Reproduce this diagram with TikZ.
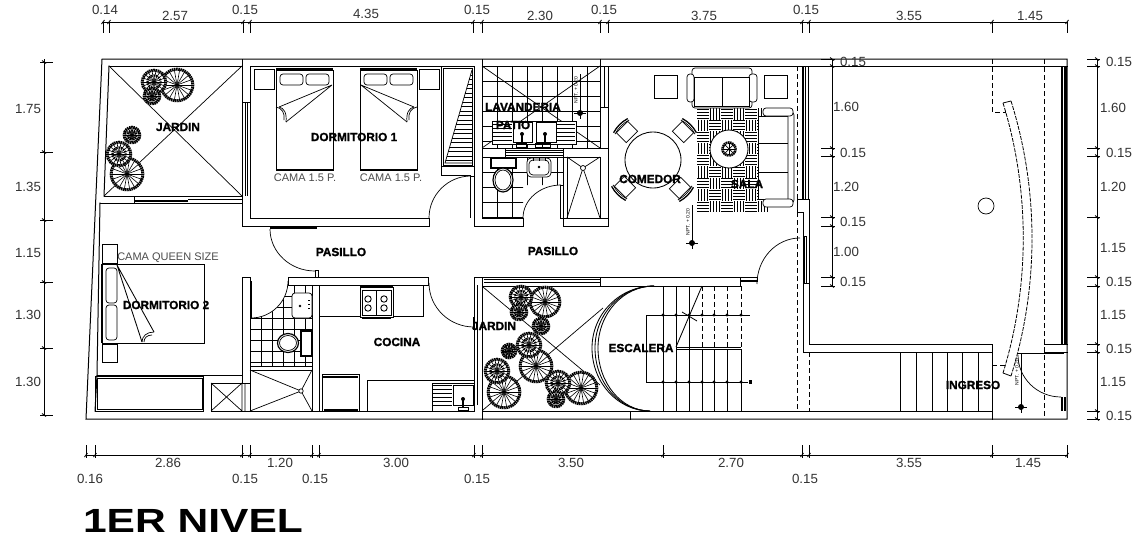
\documentclass[tikz,border=0pt]{standalone}
\usepackage{fontspec}
\setmainfont{Liberation Sans}
\newfontfamily\cadbold[FakeBold=1.4]{Liberation Sans Bold}
\usetikzlibrary{calc}
\newcounter{lblc}
\newcommand{\lbl}[4][dimtxt]{\stepcounter{lblc}\node[#1] (t\thelblc) at (#2,#3) {#4};}
\newcommand{\qarc}[3]{(#1) .. controls ($(#1)!0.552!(#2)$) and ($(#3)!0.552!(#2)$) .. (#3)}
\newcommand{\arbol}[3]{%
  \fill[white] (#1,#2) circle (#3);
  \foreach \a in {0,20,...,340}{\draw[line width=.6pt] (#1,#2) -- ++(\a:#3-1);}
  \draw[line width=3pt,dash pattern=on 1.5pt off .6pt] (#1,#2) circle (#3-1.2);
  \ifnum#3<14 \draw[line width=2.2pt,dash pattern=on 1.5pt off 1pt] (#1,#2) circle (#3*.5);\fi
  \fill (#1,#2) circle (1.5);
}
\newcommand{\silla}[3]{\begin{scope}[shift={(#1,#2)},rotate=#3]
  \draw[thinl] (-7,-8) rectangle (7,8);
  \draw[line width=1.3pt] (9,-10) .. controls (11,-3) and (11,3) .. (9,10);
  \draw[thinl] (7,-10) .. controls (9,-3) and (9,3) .. (7,10);
\end{scope}}
\newcommand{\nivel}[5]{%
  \draw[line width=.9pt] (#1,#2) -- (#1,#3);
  \fill (#1,#3) circle (3);
  \draw[thinl] (#1-6,#3) -- (#1+6,#3) (#1,#3-6) -- (#1,#3+6);
  \lbl[nivtxt]{#4}{#5}{NPT. + 0.20}
}
\tikzset{
  wall/.style={line width=1pt,line cap=rect},
  thinl/.style={line width=.7pt},
  dimln/.style={line width=.85pt},
  heavy/.style={line width=1.9pt},
  dashl/.style={line width=.85pt,dash pattern=on 5pt off 3pt},
  dimtxt/.style={text=black!80,font=\fontsize{13.3}{15}\selectfont,inner sep=0pt},
  smalltxt/.style={text=black!70,font=\fontsize{11}{13}\selectfont,inner sep=0pt},
  room/.style={font=\cadbold\fontsize{11.8}{13}\selectfont,inner sep=0pt},
  nivtxt/.style={font=\fontsize{5}{6}\selectfont,rotate=90,inner sep=0pt},
  title/.style={font=\bfseries\fontsize{33.5}{36}\selectfont,xscale=1.27,inner sep=0pt}
}
\begin{document}
\begin{tikzpicture}[x=1pt,y=-1pt,line join=miter]
\useasboundingbox (0,0) rectangle (1143,541);
\fill[white] (0,0) rectangle (1143,541);

% tiles
\begin{scope}
 \clip (482,66) rectangle (600,148);
 \foreach \v in {482,497,...,600}{\draw[thinl] (\v,66)--(\v,148);}
 \foreach \v in {66,81,...,148}{\draw[thinl] (482,\v)--(600,\v);}
\end{scope}
\draw[thinl] (482,66)--(600,148) (600,66)--(482,148);
\begin{scope}
 \clip (482,157) -- (563,157) -- (563,185) -- (523,185) -- (523,218) -- (482,218) -- cycle;
 \foreach \v in {482,497,...,563}{\draw[thinl] (\v,157)--(\v,218);}
 \foreach \v in {157,172,...,218}{\draw[thinl] (482,\v)--(563,\v);}
\end{scope}
\begin{scope}
 \clip (251,318) .. controls (272,318) and (288,302) .. (288,281) -- (312,285) -- (312,366) -- (251,366) -- cycle;
 \foreach \v in {250,261,...,312}{\draw[thinl] (\v,285)--(\v,366);}
 \foreach \v in {285,296,...,366}{\draw[thinl] (250,\v)--(312,\v);}
\end{scope}

% outer walls
\draw[wall] (102,59) -- (1067,59) -- (1067,419) -- (86,419) -- cycle;
\draw[wall] (109,66) -- (242,66) (250,66) -- (474,66) (482,66) -- (1067,66);
\draw[wall] (109,66) -- (104,196) (100,203) -- (97,375) -- (95,411);
\draw[wall] (242,59) -- (242,226) (250,66) -- (250,218);
\draw[thinl] (245,102) -- (245,196) (247.5,102) -- (247.5,196) (243,102)--(250,102);
\draw[wall] (104,196) -- (242,196) (100,203) -- (242,203);
\draw[heavy] (134,201) -- (188,201);
\draw[thinl] (134,196) -- (134,203) (188,199) -- (242,199);
\draw[wall] (250,218) -- (429,218) (242,226) -- (429,226) (429,218) -- (429,226);
\draw[line width=1.4pt] (270,228) -- (317,228);
% closet dorm 1
\draw[wall] (441,66) -- (441,175) -- (470,175) (441,166) -- (474,166);
\draw[wall] (443,68) rectangle (472,165);
\draw[thinl] (472,70) -- (445,163) -- (472,163);
\foreach \v in {75,79.5,...,163}{\draw[thinl] ({472-(\v-70)*27/93},\v) -- (472,\v);}
\draw[wall] (474,66) -- (474,226) -- (523,226) -- (523,218) -- (482,218) -- (482,59);
\draw[thinl] (470.5,176) -- (470.5,218) (470.5,176) -- (474,176);
% lavanderia and baths
\draw[wall] (600,59) -- (600,148) (482,148) -- (608,148) (482,157) -- (505,157) -- (505,148) (563,157) -- (600,157);
\draw[thinl] (505,150.5) -- (563,150.5) (505,152.8) -- (563,152.8) (505,155) -- (563,155);
\draw[wall] (604,66) -- (604,107) (600,107) -- (608,107) (608,66) -- (608,226) -- (563,226) -- (563,148);
\draw[wall] (563,218) -- (608,218);
\draw[wall] (560,185) -- (560,218) -- (563,218) (560,185) -- (563,185);
\draw[wall] (567,157) rectangle (600,218);
\draw[thinl] (567,157) -- (583,168) -- (600,157) (567,218) -- (583,168) -- (600,218);
\fill[white] (583,168) circle (2.5); \draw[thinl] (583,168) circle (2.5);
% laundry sink
\draw[wall,fill=white] (492,121) rectangle (576,144);
\draw[thinl,fill=white] (513,122) rectangle (532,142) (536,122) rectangle (556,142);
\foreach \v in {124,128,...,142}{\draw[thinl] (493,\v) -- (512,\v) (557,\v) -- (575,\v);}
\draw[line width=1.6pt] (522,134) -- (522,142) (545,134) -- (545,142);
\fill (522,134) circle (2) (545,134) circle (2);
\draw[thinl] (516,143) rectangle (526,147) (535,143) rectangle (550,147);
% bath 1 fixtures
\draw[heavy,fill=white] (491,158) rectangle (516,168);
\draw[line width=1.2pt,fill=white] (503,180) ellipse (10 and 12);
\draw[thinl] (503,180) ellipse (8 and 10);
\draw[thinl,fill=white,rounded corners=4pt] (527,158) rectangle (551,177);
\draw[thinl,rounded corners=4pt] (529,160) rectangle (549,175);
\fill (539,167) circle (1.3);
\draw[line width=1pt] (533,158) -- (533,161) (539,158) -- (539,161) (545,158) -- (545,161);

% middle walls, kitchen
\draw[wall] (288,277) rectangle (428,285);
\draw[wall] (315,270) -- (315,277) (318,270) -- (318,277) (315,270) -- (318,270);
\draw[wall] (242,277) -- (250,277) (242,277) -- (242,383) (250,277) -- (250,411);
\draw[heavy] (251,281) -- (251,318);
\draw[wall] (312,285) -- (312,411) (319,285) -- (319,411);
\draw[wall] (97,375) -- (242,375);
\draw[wall] (95,376.5) rectangle (203,411);
\draw[thinl] (97.5,378.5) rectangle (202,409);
\draw[wall] (211,383) rectangle (250,411);
\draw[thinl] (211,383) -- (242,411) (242,383) -- (211,411) (242,383) -- (242,411) (245,383) -- (245,411);
\draw[wall] (211,411) -- (474,411);
\draw[wall] (250,370) -- (312,370) (250,366) -- (312,366);
\draw[thinl] (250,411) -- (301,391) -- (312,411) (250,370) -- (301,391) -- (312,370);
\fill[white] (301,391) circle (2.2); \draw[thinl] (301,391) circle (2.2);
% bath 2
\draw[thinl,fill=white,rounded corners=3pt] (292,293) rectangle (312,318);
\fill (300,306) circle (1.3);
\draw[line width=1pt] (308,300) -- (310,300) (308,304) -- (310,304) (308,308) -- (310,308);
\draw[heavy,fill=white] (301,331) rectangle (312,356);
\draw[line width=1.2pt,fill=white] (288,343) ellipse (10.5 and 9.5);
\draw[thinl] (288,343) ellipse (8.5 and 7.5);
% kitchen
\draw[wall] (319,316) -- (423,316) -- (423,285);
\draw[wall,fill=white] (360,287) rectangle (393,317);
\draw[thinl] (362,290) rectangle (391,315) (376,290) -- (376,315);
\draw[heavy] (360,286) -- (393,286) (362,318.5) -- (391,318.5);
\foreach \p/\q in {368/299,384/299,368/308,384/308}{\draw[line width=.9pt] (\p,\q) circle (3.2);}
\draw[wall] (322,374) rectangle (359,411);
\draw[heavy] (323,377) -- (358,377) (324,410) -- (358,410);
\draw[wall] (367,380) -- (474,380) (367,380) -- (367,411);
\draw[wall] (432,383) rectangle (474,411);
\draw[thinl] (453,385) rectangle (473,405);
\foreach \v in {385,389,...,405}{\draw[thinl] (433,\v) -- (452,\v);}
\draw[line width=1.5pt] (463,399) -- (463,407); \fill (463,399) circle (2);
\draw[thinl] (458,407) rectangle (468,410);
% central wall S
\draw[wall] (474,283) -- (474,411) (482,277) -- (482,419) (474,277) -- (482,277) (474,277) -- (474,283);
\draw[thinl] (477,285) -- (477,405);
\draw[heavy] (474,317) -- (474,330);
\draw[wall] (482,286) -- (740,286) (482,277) -- (740,277) -- (740,286) (600,277) -- (600,286);
\draw[thinl] (484,279.5) -- (600,279.5) (484,282) -- (600,282);
\draw[wall] (740,277) -- (757,277) -- (757,281);
\draw[heavy] (740,281) -- (757,281);
\draw[wall] (482,411) -- (992,411) (630,411) -- (630,419);
% jardin diagonals
\draw[thinl] (109,66) -- (242,196) (242,66) -- (104,196);
\draw[thinl] (483,287) -- (600,385) (603,308) -- (483,410);
% right block
\draw[wall] (797,199) -- (809,199) (797,199) -- (797,212) -- (803,212) -- (803,352) -- (992,352);
\draw[wall] (809,199) -- (809,344) -- (992,344) (992,344) -- (992,419) (803,283) -- (809,283);
\draw[thinl] (803,236) rectangle (806,283);
\draw[thinl] (804.5,236) -- (804.5,283);
\draw[dashl] (797,66) -- (797,199) (797,212) -- (797,411) (809,352) -- (809,411);
\draw[line width=1.1pt] (803,66) -- (803,199) (805.5,66) -- (805.5,199) (808.5,66) -- (808.5,199);
\draw[dashl] (992,59) -- (992,112) -- (1006,112) (1044,59) -- (1044,419) (992,365) -- (1006,365);
\draw[wall] (1044,344) -- (1067,344) (1044,352) -- (1067,352);
\draw[thinl] (1061,66) rectangle (1066,344);
\draw[heavy] (1062,66) -- (1062,344) (1065,66) -- (1065,344);
\draw[line width=1.2pt] (1018,353.5) -- (1064,353.5);
\draw[heavy] (1062,397) -- (1062,411) (1065,397) -- (1065,411);
\foreach \v in {900,916,932,947,962,978}{\draw[wall] (\v,352) -- (\v,411);}
\draw[line width=.8pt,dash pattern=on 4pt off 1.2pt] (1003,103) .. controls (1030,190) and (1030,286) .. (1003,373);
\draw[line width=.8pt,dash pattern=on 4pt off 1.2pt] (1011,101) .. controls (1039,190) and (1039,287) .. (1011,376);
\draw[line width=.8pt] (1003,103) -- (1011,101) (1003,373) -- (1011,376);
\draw[thinl] (986,206) circle (8);

% doors
\draw[thinl] \qarc{429,218}{429,176}{471,176};
\draw[thinl] \qarc{523,218}{523,185}{561,185};
\draw[thinl] \qarc{270,229}{270,271}{315,271};
\draw[thinl] \qarc{429,283}{429,327}{474,327};
\draw[thinl] \qarc{757,284}{757,238}{800,238};
\draw[thinl] \qarc{288,281}{288,318}{251,318};
\draw[thinl] \qarc{1018,355}{1018,397}{1061,397};

% stairs
\foreach \v in {663,676,689}{\draw[dimln] (\v,286) -- (\v,411);}
\foreach \v in {702,714,727,741}{
  \draw[dashl] (\v,286) -- (\v,347);
  \draw[dimln] (\v,349) -- (\v,411);}
\draw[dimln] (646,315) -- (750,315) (646,315) -- (646,382) -- (748,382);
\foreach \v in {663,676,689,702,714,727,741}{\fill (\v,315) circle (1.6) (\v,382) circle (1.6);}
\fill (749,380) rectangle (752,384);
\draw[dimln] (676,347) -- (741,347) (676,349.5) -- (741,349.5);
\draw[dimln] (676,347) -- (702,286) (682,312) -- (697,321);
\foreach \r/\e in {0/654,3/654,6/654}{
  \draw[dimln] \qarc{\e,286}{592+\r,286}{592+\r,348};
  \draw[dimln] \qarc{592+\r,348}{592+\r,411}{650,411};
}

% rug
\foreach \i in {0,...,5}{\foreach \j in {0,...,8}{
  \pgfmathsetmacro{\cx}{697+\i*12}\pgfmathsetmacro{\cy}{108+\j*11.6}
  \pgfmathparse{int(mod(\i+\j,2))}
  \ifnum\pgfmathresult=0
    \draw[line width=.85pt] (\cx,\cy+1.3) -- ++(12,0) (\cx,\cy+4.3) -- ++(12,0) (\cx,\cy+7.3) -- ++(12,0) (\cx,\cy+10.3) -- ++(12,0);
  \else
    \draw[line width=.85pt] (\cx+1.5,\cy) -- ++(0,11.6) (\cx+4.5,\cy) -- ++(0,11.6) (\cx+7.5,\cy) -- ++(0,11.6) (\cx+10.5,\cy) -- ++(0,11.6);
  \fi
}}
\fill[white] (729,149) circle (19); \draw[dimln] (729,149) circle (19);
\draw[line width=2.6pt,dash pattern=on 1.5pt off .6pt] (729,149) circle (6.5);
\foreach \a in {0,45,...,315}{\draw[line width=.7pt] (729,149) -- ++(\a:6);}
% sofas and side tables
\draw[wall] (654,75) rectangle (677,98) (764,75) rectangle (787,98);
\draw[thinl,fill=white,rounded corners=3pt] (692,68) rectangle (752,108);
\draw[thinl,fill=white,rounded corners=3pt] (687,74) rectangle (694,102) (749,74) rectangle (757,102);
\draw[thinl,fill=white] (694,77) rectangle (722,106) (722,77) rectangle (749,106);
\draw[thinl,fill=white] (758,116) rectangle (788,199);
\draw[thinl] (758,143) -- (788,143) (758,172) -- (788,172);
\draw[thinl,fill=white,rounded corners=3pt] (788,112) rectangle (794,203);
\draw[thinl,fill=white,rounded corners=3pt] (763,108) rectangle (793,116) (763,199) rectangle (793,207);
% dining
\draw[dimln,fill=white] (653,160) circle (28);
\silla{627}{132}{135}\silla{683}{132}{45}\silla{625}{187}{225}\silla{680}{188}{315}

% beds
\draw[wall,fill=white] (276,70) rectangle (333,170);
\draw[heavy] (276,69) -- (333,69) (276,170) -- (333,170);
\draw[thinl,rounded corners=3pt] (280,74) rectangle (303,85) (306,74) rectangle (329,85);
\draw[wall] (254,69) rectangle (274,89) (419,69) rectangle (439,89);
\draw[thinl] (332,85) -- (279,107) (332,85) -- (286,122);
\draw[thinl] (279,107) .. controls (284,108) and (287,113) .. (286,122);
\draw[thinl] (276,107) .. controls (282,108) and (285,113) .. (284,120);
\draw[wall,fill=white] (360,70) rectangle (417,170);
\draw[heavy] (360,69) -- (417,69) (360,170) -- (417,170);
\draw[thinl,rounded corners=3pt] (364,74) rectangle (387,85) (390,74) rectangle (413,85);
\draw[thinl] (361,85) -- (414,107) (361,85) -- (407,122);
\draw[thinl] (414,107) .. controls (409,108) and (406,113) .. (407,122);
\draw[thinl] (417,107) .. controls (411,108) and (408,113) .. (409,120);
% bed dorm 2
\draw[wall,fill=white] (102,264) rectangle (204,343);
\draw[heavy] (102,264) -- (102,343);
\draw[thinl] (102,244) rectangle (117,263) (102,344) rectangle (117,362);
\draw[thinl,rounded corners=3pt] (106,268) rectangle (117,303) (106,305) rectangle (117,340);
\draw[dimln] (117,265) -- (142,342) (117,265) -- (154,332);
\draw[thinl] (142,342) .. controls (142,336) and (147,332) .. (154,332);
\draw[thinl] (144,342) .. controls (144,338) and (147,335) .. (152,335);

% trees
\arbol{177}{85}{17}\arbol{154}{82}{13}\arbol{152}{96}{9}
\arbol{132}{135}{9}\arbol{127}{174}{17}\arbol{119}{154}{13}
\arbol{545}{302}{16}\arbol{521}{297}{12}\arbol{519}{312}{9}\arbol{541}{326}{9}
\arbol{536}{366}{17}\arbol{529}{345}{13}\arbol{509}{351}{8}
\arbol{504}{392}{17}\arbol{497}{371}{13}
\arbol{581}{388}{17}\arbol{558}{383}{13}\arbol{556}{399}{9}

% elevation marks
\nivel{580}{74}{113}{576}{90}
\nivel{692}{205}{243}{688}{222}
\nivel{1021}{353}{407}{1017}{372}

% dimension lines
\draw[dimln] (102,22) -- (1067,22);
\foreach \v in {103,109,243,250,473,482,600,608,802,809,992,1067}{
  \draw[dimln] (\v,22) -- (\v,33);
  \draw[dimln] (\v-1.5,24) -- (\v+1.5,20);}
\draw[dimln] (86,455) -- (1067,455);
\foreach \v in {86,95,242,250,312,319,474,482,663,802,809,992,1067}{
  \draw[dimln] (\v,445) -- (\v,458);
  \draw[dimln] (\v-1.5,457) -- (\v+1.5,453);}
\draw[dimln] (44,59) -- (44,415);
\foreach \v in {62,152,220,282,348,415}{
  \draw[dimln] (40,\v) -- (53,\v);
  \draw[dimln] (42,\v-1.5) -- (46,\v+1.5);}
\draw[dimln] (832,59) -- (832,286);
\foreach \v in {59,66,148,156,217,226,277,286}{
  \draw[dimln] (821,\v) -- (835,\v);
  \draw[dimln] (830,\v-1.5) -- (834,\v+1.5);}
\draw[dimln] (1097,59) -- (1097,419);
\foreach \v in {59,66,148,156,217,277,286,344,352,411,419}{
  \draw[dimln] (1087,\v) -- (1100,\v);
  \draw[dimln] (1095,\v-1.5) -- (1099,\v+1.5);}

% dimension labels
\foreach \px/\py/\tx in {105/10/0.14,175/16/2.57,245/10/0.15,366/14/4.35,477/10/0.15,540/16/2.30,604/10/0.15,704/16/3.75,806/10/0.15,909/16/3.55,1030/16/1.45,
  168/463/2.86,280/463/1.20,396/463/3.00,571/463/3.50,731/463/2.70,909/463/3.55,1028/463/1.45,
  90/479/0.16,245/479/0.15,315/479/0.15,477/479/0.15,805/479/0.15,
  28/109/1.75,28/187/1.35,28/253/1.15,28/315/1.30,28/382/1.30,
  853/62/0.15,846/107/1.60,853/153/0.15,846/187/1.20,853/222/0.15,846/252/1.00,853/282/0.15,
  1119/62/0.15,1113/108/1.60,1119/153/0.15,1113/187/1.20,1113/248/1.15,1119/282/0.15,1113/315/1.15,1119/349/0.15,1113/382/1.15,1119/416/0.15}{
  \lbl{\px}{\py}{\tx}
}
\lbl[smalltxt]{305}{178}{CAMA 1.5 P.}
\lbl[smalltxt]{391}{178}{CAMA 1.5 P.}
\lbl[smalltxt]{168}{258}{CAMA QUEEN SIZE}

% room labels
\lbl[room]{178}{127}{JARDIN}
\lbl[room]{354}{137}{DORMITORIO 1}
\lbl[room]{523}{107}{LAVANDERIA}
\lbl[room]{513}{125}{PATIO}
\lbl[room]{650}{179}{COMEDOR}
\lbl[room]{747}{184}{SALA}
\lbl[room]{341}{252}{PASILLO}
\lbl[room]{553}{251}{PASILLO}
\lbl[room]{166}{305}{DORMITORIO 2}
\lbl[room]{397}{342}{COCINA}
\lbl[room]{494}{326}{JARDIN}
\lbl[room]{641}{348}{ESCALERA}
\lbl[room]{973}{385}{INGRESO}
\lbl[title]{193}{521}{1ER NIVEL}
\end{tikzpicture}
\end{document}
